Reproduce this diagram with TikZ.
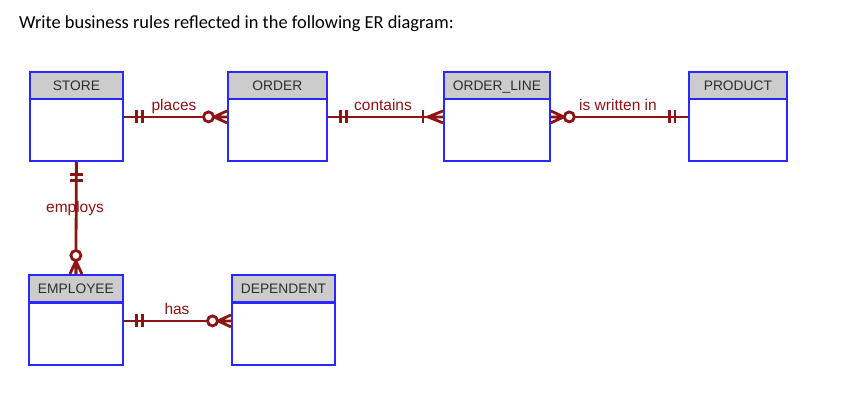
\documentclass[tikz,border=0pt]{standalone}
\usepackage{fontspec}
\setmainfont{Liberation Sans}
\newfontfamily\titlefont{Carlito}
\definecolor{entblue}{RGB}{40,40,255}
\definecolor{relred}{RGB}{140,20,20}
\definecolor{headgray}{RGB}{204,204,204}
\definecolor{headtext}{RGB}{45,45,45}
\tikzset{
  enthead/.style={draw=entblue, line width=1.8pt, fill=headgray, anchor=north west, inner sep=0pt,
    minimum height=27pt, text height=10pt, text depth=-1pt, text=headtext, font=\fontsize{13.8}{14}\selectfont},
  entbody/.style={draw=entblue, line width=1.8pt, fill=white, anchor=north west, inner sep=0pt,
    minimum height=62pt},
  rel/.style={draw=relred, line width=2.8pt},
  rellabel/.style={text=relred, font=\fontsize{15.5}{16}\selectfont, inner sep=0pt},
  mandone/.pic={\draw[rel] (13,-6.5) -- (13,6.5) (18.5,-6.5) -- (18.5,6.5);},
  zeromany/.pic={\draw[rel] (0,-6) -- (13,0) -- (0,6) (0,0) -- (13,0);
                 \draw[rel, fill=white] (18.5,0) circle (5);},
  onemany/.pic={\draw[rel] (0,-6) -- (15,0) -- (0,6) (0,0) -- (15,0);
                \draw[rel] (20,-6.5) -- (20,6.5);}
}
\begin{document}
\begin{tikzpicture}[x=1pt,y=-1pt]
\useasboundingbox[fill=white] (0,0) rectangle (858,416);
\node[anchor=base west, inner sep=0pt, font=\titlefont\fontsize{18.4}{20}\selectfont] (title) at (19,28)
  {Write business rules reflected in the following ER diagram:};

% entities
\node[enthead, minimum width=93pt] (storeH) at (29,71) {STORE};
\node[entbody, minimum width=93pt] (store) at (29,98) {};
\node[enthead, minimum width=99pt] (orderH) at (227,71) {ORDER};
\node[entbody, minimum width=99pt] (order) at (227,98) {};
\node[enthead, minimum width=106pt] (olineH) at (443,71) {ORDER\_LINE};
\node[entbody, minimum width=106pt] (oline) at (443,98) {};
\node[enthead, minimum width=98pt] (productH) at (688,71) {PRODUCT};
\node[entbody, minimum width=98pt] (product) at (688,98) {};
\node[enthead, minimum width=94pt] (employeeH) at (28,274) {EMPLOYEE};
\node[entbody, minimum width=94pt] (employee) at (28,302) {};
\node[enthead, minimum width=103pt] (dependentH) at (231,274) {DEPENDENT};
\node[entbody, minimum width=103pt] (dependent) at (231,302) {};

% connector end points
\coordinate (pa) at ([yshift=13pt]store.east);
\coordinate (pb) at ([yshift=13pt]order.west);
\coordinate (ca) at ([yshift=13pt]order.east);
\coordinate (cb) at ([yshift=13pt]oline.west);
\coordinate (wa) at ([yshift=13pt]oline.east);
\coordinate (wb) at ([yshift=13pt]product.west);
\coordinate (ha) at ([yshift=13pt]employee.east);
\coordinate (hb) at ([yshift=13pt]dependent.west);

% relationships
\draw[rel] (pa) -- (pb);
\pic at (pa) {mandone};
\pic[rotate=180] at (pb) {zeromany};
\node[rellabel] (places) at (174,106) {places};

\draw[rel] (ca) -- (cb);
\pic at (ca) {mandone};
\pic[rotate=180] at (cb) {onemany};
\node[rellabel] (contains) at (383,105) {contains};

\draw[rel] (wa) -- (wb);
\pic at (wa) {zeromany};
\pic[rotate=180] at (wb) {mandone};
\node[rellabel] (written) at (618,105) {is written in};

\draw[rel] (ha) -- (hb);
\pic at (ha) {mandone};
\pic[rotate=180] at (hb) {zeromany};
\node[rellabel] (has) at (177,309) {has};

\draw[rel] (store.south) -- (employeeH.north);
\pic[rotate=-90] at (store.south) {mandone};
\pic[rotate=90] at (employeeH.north) {zeromany};
\node[rellabel] (employs) at (75,208) {employs};
\end{tikzpicture}
\end{document}
